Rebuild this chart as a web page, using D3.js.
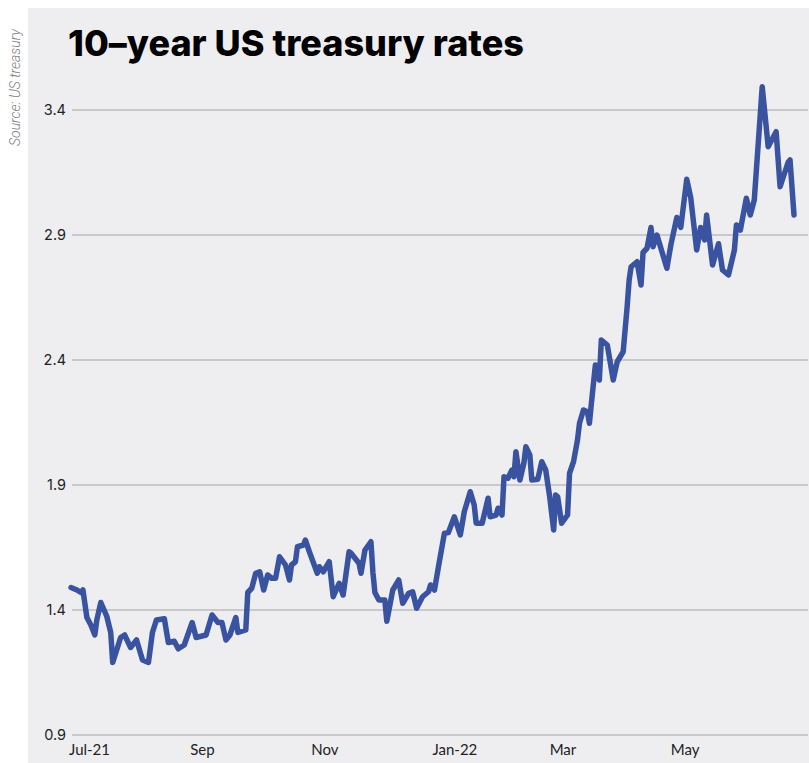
<!DOCTYPE html>
<html>
<head>
<meta charset="utf-8">
<script src="https://cdn.jsdelivr.net/npm/d3@7"></script>
<style>
 body { margin: 0; background: #fff; }
 svg { display: block; }
</style>
</head>
<body>
<svg width="809" height="763"></svg>
<script>

// Data: dates and 10-year yield (%).

var dates = [
 '2021-07-01','2021-07-04','2021-07-06','2021-07-07','2021-07-09','2021-07-11','2021-07-13','2021-07-14',
 '2021-07-16','2021-07-19','2021-07-21','2021-07-22','2021-07-24','2021-07-26','2021-07-28','2021-07-31',
 '2021-08-03','2021-08-06','2021-08-09','2021-08-11','2021-08-13','2021-08-17','2021-08-19','2021-08-22',
 '2021-08-24','2021-08-27','2021-08-31','2021-09-02','2021-09-07','2021-09-10','2021-09-13','2021-09-15',
 '2021-09-17','2021-09-19','2021-09-22','2021-09-23','2021-09-27','2021-09-28','2021-09-30','2021-10-02',
 '2021-10-04','2021-10-06','2021-10-08','2021-10-10','2021-10-12','2021-10-14','2021-10-17','2021-10-19',
 '2021-10-20','2021-10-22','2021-10-23','2021-10-26','2021-10-27','2021-10-29','2021-11-02','2021-11-03',
 '2021-11-05','2021-11-08','2021-11-10','2021-11-13','2021-11-15','2021-11-18','2021-11-19','2021-11-23',
 '2021-11-24','2021-11-26','2021-11-29','2021-11-30','2021-12-01','2021-12-03','2021-12-06','2021-12-07',
 '2021-12-10','2021-12-13','2021-12-15','2021-12-18','2021-12-20','2021-12-22','2021-12-25','2021-12-28',
 '2021-12-29','2021-12-31','2022-01-02','2022-01-05','2022-01-07','2022-01-10','2022-01-13','2022-01-15',
 '2022-01-18','2022-01-20','2022-01-21','2022-01-24','2022-01-27','2022-01-28','2022-01-31','2022-02-01',
 '2022-02-03','2022-02-04','2022-02-06','2022-02-08','2022-02-09','2022-02-10','2022-02-12','2022-02-14',
 '2022-02-15','2022-02-17','2022-02-18','2022-02-21','2022-02-23','2022-02-25','2022-02-27','2022-03-01',
 '2022-03-02','2022-03-03','2022-03-05','2022-03-08','2022-03-09','2022-03-11','2022-03-13','2022-03-14',
 '2022-03-16','2022-03-18','2022-03-19','2022-03-20','2022-03-22','2022-03-24','2022-03-25','2022-03-28',
 '2022-03-31','2022-04-02','2022-04-05','2022-04-07','2022-04-08','2022-04-09','2022-04-12','2022-04-14',
 '2022-04-15','2022-04-17','2022-04-19','2022-04-20','2022-04-22','2022-04-27','2022-04-29','2022-05-02',
 '2022-05-04','2022-05-07','2022-05-09','2022-05-12','2022-05-14','2022-05-16','2022-05-17','2022-05-20',
 '2022-05-23','2022-05-25','2022-05-28','2022-05-31','2022-06-01','2022-06-03','2022-06-06','2022-06-08',
 '2022-06-10','2022-06-14','2022-06-17','2022-06-21','2022-06-23','2022-06-27','2022-06-28','2022-06-30'
];

var rates = [
 1.49, 1.48, 1.47, 1.48, 1.37, 1.34, 1.30, 1.36,
 1.43, 1.375, 1.31, 1.19, 1.24, 1.29, 1.30, 1.25,
 1.28, 1.20, 1.19, 1.31, 1.36, 1.365, 1.27, 1.275,
 1.245, 1.26, 1.35, 1.29, 1.30, 1.38, 1.35, 1.35,
 1.28, 1.30, 1.37, 1.31, 1.32, 1.47, 1.487, 1.547,
 1.553, 1.48, 1.54, 1.527, 1.527, 1.613, 1.58, 1.52,
 1.58, 1.593, 1.653, 1.66, 1.68, 1.633, 1.547, 1.573,
 1.553, 1.593, 1.453, 1.507, 1.46, 1.633, 1.627, 1.587,
 1.547, 1.64, 1.673, 1.55, 1.47, 1.44, 1.44, 1.355,
 1.48, 1.52, 1.427, 1.467, 1.473, 1.407, 1.453, 1.473,
 1.50, 1.48, 1.573, 1.707, 1.71, 1.773, 1.70, 1.793,
 1.873, 1.82, 1.747, 1.747, 1.847, 1.773, 1.78, 1.807,
 1.78, 1.933, 1.927, 1.96, 1.933, 2.033, 1.92, 1.987,
 2.053, 2.02, 1.92, 1.923, 1.993, 1.96, 1.853, 1.72,
 1.86, 1.853, 1.747, 1.78, 1.947, 1.993, 2.08, 2.147,
 2.20, 2.193, 2.147, 2.227, 2.38, 2.32, 2.48, 2.46,
 2.32, 2.393, 2.433, 2.613, 2.72, 2.773, 2.793, 2.70,
 2.83, 2.847, 2.93, 2.853, 2.90, 2.767, 2.86, 2.97,
 2.93, 3.123, 3.05, 2.84, 2.93, 2.88, 2.98, 2.78,
 2.865, 2.76, 2.74, 2.84, 2.94, 2.92, 3.047, 2.98,
 3.04, 3.493, 3.253, 3.313, 3.093, 3.19, 3.20, 2.98
];

var yTicks = [0.9, 1.4, 1.9, 2.4, 2.9, 3.4];
var xTickDates = ['2021-07-01','2021-09-01','2021-11-01','2022-01-01','2022-03-01','2022-05-01'];
var xTickLabels = ['Jul-21','Sep','Nov','Jan-22','Mar','May'];

var parse = d3.timeParse('%Y-%m-%d');
var data = dates.map(function(d, i) { return {date: parse(d), value: rates[i]}; });

var svg = d3.select('svg');

// Grey panel behind the chart, white strip on the left for the source note.

svg.append('rect')
 .attr('x', 28).attr('y', 8)
 .attr('width', 781).attr('height', 755)
 .attr('fill', '#eeeef1');

svg.append('text')
 .attr('transform', 'translate(20,146) rotate(-90)')
 .attr('font-family', 'Roboto, sans-serif')
 .attr('font-style', 'italic')
 .attr('font-weight', 300)
 .attr('font-size', 14)
 .attr('fill', '#808080')
 .text('Source: US treasury');

svg.append('text')
 .attr('x', 68).attr('y', 56)
 .attr('font-family', 'Inter, sans-serif')
 .attr('font-weight', 800)
 .attr('font-size', 36)
 .attr('fill', '#000')
 .text('10–year US treasury rates');

// Scales.

var x = d3.scaleTime()
 .domain([parse('2021-07-01'), parse('2022-06-30')])
 .range([71, 794]);

var y = d3.scaleLinear()
 .domain([0.9, 3.4])
 .range([735, 110]);

// Horizontal gridlines with labels.

var grid = svg.append('g');
grid.selectAll('line')
 .data(yTicks)
 .enter().append('line')
 .attr('x1', 72).attr('x2', 808)
 .attr('y1', function(d) { return y(d); })
 .attr('y2', function(d) { return y(d); })
 .attr('stroke', '#bdbdbf')
 .attr('stroke-width', 1.3);

grid.selectAll('text')
 .data(yTicks)
 .enter().append('text')
 .attr('x', 66)
 .attr('y', function(d) { return y(d); })
 .attr('dy', '0.35em')
 .attr('text-anchor', 'end')
 .attr('font-family', 'Inter, sans-serif')
 .attr('font-size', 14.5)
 .attr('fill', '#222')
 .text(function(d) { return d3.format('.1f')(d); });

// Month labels.

svg.append('g')
 .selectAll('text')
 .data(xTickDates)
 .enter().append('text')
 .attr('x', function(d, i) { return i === 0 ? x(parse(d)) - 2 : x(parse(d)) - 4; })
 .attr('y', 755)
 .attr('font-family', 'Lato, sans-serif')
 .attr('font-size', 15)
 .attr('fill', '#222')
 .text(function(d, i) { return xTickLabels[i]; });

// The yield line.

var line = d3.line()
 .x(function(d) { return x(d.date); })
 .y(function(d) { return y(d.value); });

svg.append('path')
 .datum(data)
 .attr('d', line)
 .attr('fill', 'none')
 .attr('stroke', '#3a53a0')
 .attr('stroke-width', 5.5)
 .attr('stroke-linejoin', 'round')
 .attr('stroke-linecap', 'round');

</script>
</body>
</html>
